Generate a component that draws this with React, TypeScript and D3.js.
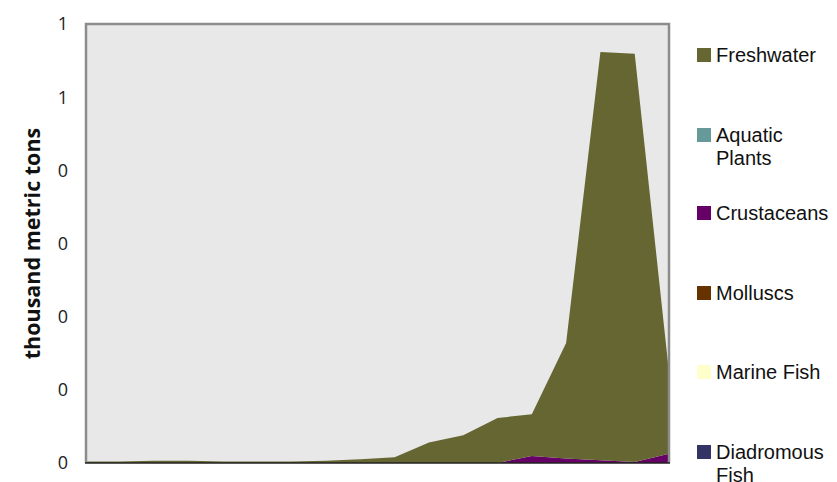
import React from "react";
import * as d3 from "d3";

const years = [1990,1991,1992,1993,1994,1995,1996,1997,1998,1999,2000,2001,2002,2003,2004,2005,2006,2007];
const diadromousFish = [0,0,0,0,0,0,0,0,0,0,0,0,0,0,0,0,0,0];
const marineFish = [0,0,0,0,0,0,0,0,0,0,0,0,0,0,0,0,0,0];
const molluscs = [0,0,0,0,0,0,0,0,0,0,0,0,0,0,0,0,0,0];
const crustaceans = [0,0,0,0,0,0,0,0,0,0,0,0,0,0.0096,0.006,0.0037,0.0014,0.0128];
const aquaticPlants = [0,0,0,0,0,0,0,0,0,0,0,0,0,0,0,0,0,0];
const freshwater = [0.002,0.002,0.003,0.003,0.002,0.002,0.002,0.003,0.005,0.008,0.028,0.038,0.0615,0.057,0.158,0.558,0.558,0.111];

const seriesNames = ["Diadromous Fish","Marine Fish","Molluscs","Crustaceans","Aquatic Plants","Freshwater"];
const seriesValues = [diadromousFish, marineFish, molluscs, crustaceans, aquaticPlants, freshwater];
const seriesColors = ["#333366","#FFFFCC","#663300","#660066","#669999","#666633"];
const legendOrder = ["Freshwater","Aquatic Plants","Crustaceans","Molluscs","Marine Fish","Diadromous Fish"];
const legendLines: Record<string,string[]> = {
  "Freshwater": ["Freshwater"],
  "Aquatic Plants": ["Aquatic", "Plants"],
  "Crustaceans": ["Crustaceans"],
  "Molluscs": ["Molluscs"],
  "Marine Fish": ["Marine Fish"],
  "Diadromous Fish": ["Diadromous", "Fish"],
};
const yTicks = [0,0.1,0.2,0.3,0.4,0.5,0.6];

export default function App() {
  const W = 837, H = 482;
  const left = 86, right = 669, top = 24, bottom = 463;
  const x = d3.scaleLinear().domain([0, years.length - 1]).range([left, right]);
  const y = d3.scaleLinear().domain([0, 0.6]).range([bottom, top]);
  const rows = years.map((yr, i) => {
    const r: Record<string, number> = { i };
    seriesNames.forEach((n, k) => (r[n] = seriesValues[k][i]));
    return r;
  });
  const stacked = d3.stack<Record<string, number>>().keys(seriesNames)(rows);
  const area = d3.area<any>()
    .x((d: any) => x(d.data.i))
    .y0((d: any) => y(d[0]))
    .y1((d: any) => y(d[1]));
  const fmt = (v: number) => (v >= 0.5 ? "1" : "0");
  const legendY: Record<string, number> = {
    "Freshwater": 55, "Aquatic Plants": 135, "Crustaceans": 213,
    "Molluscs": 293, "Marine Fish": 372, "Diadromous Fish": 452,
  };
  return (
    <svg width={W} height={H} style={{ position: "absolute", left: 0, top: 0, background: "#fff" }}>
      <rect x={left} y={top} width={right - left} height={bottom - top} fill="#E8E8E8" />
      {stacked.map((s, k) => (
        <path key={s.key} d={area(s as any) || ""} fill={seriesColors[k]} />
      ))}
      <path d={`M${left},${bottom} V${top} H${right} V${bottom}`} fill="none" stroke="#8C8C8C" strokeWidth={2.5} />
      <line x1={left - 1} x2={right + 1} y1={bottom} y2={bottom} stroke="#222" strokeWidth={1.5} />
      {yTicks.map((t) => (
        <text key={t} x={68} y={y(t)} dy="0.36em" textAnchor="end" fontFamily="'Open Sans', sans-serif" fontSize={18} fill="#222">
          {fmt(t)}
        </text>
      ))}
      <text transform={`translate(40,${(top + bottom) / 2}) rotate(-90)`} textAnchor="middle" fontFamily="'Open Sans', sans-serif" fontWeight="bold" fontSize={21.5} fill="#111">
        thousand metric tons
      </text>
      {legendOrder.map((name) => {
        const k = seriesNames.indexOf(name);
        const cy = legendY[name];
        return (
          <g key={name}>
            <rect x={697} y={cy - 7} width={14} height={14} fill={seriesColors[k]} />
            {legendLines[name].map((ln, j) => (
              <text key={j} x={716} y={cy + j * 23} dy="0.36em" fontFamily="'Liberation Sans', Arial, sans-serif" fontSize={20} fill="#111">
                {ln}
              </text>
            ))}
          </g>
        );
      })}
    </svg>
  );
}
